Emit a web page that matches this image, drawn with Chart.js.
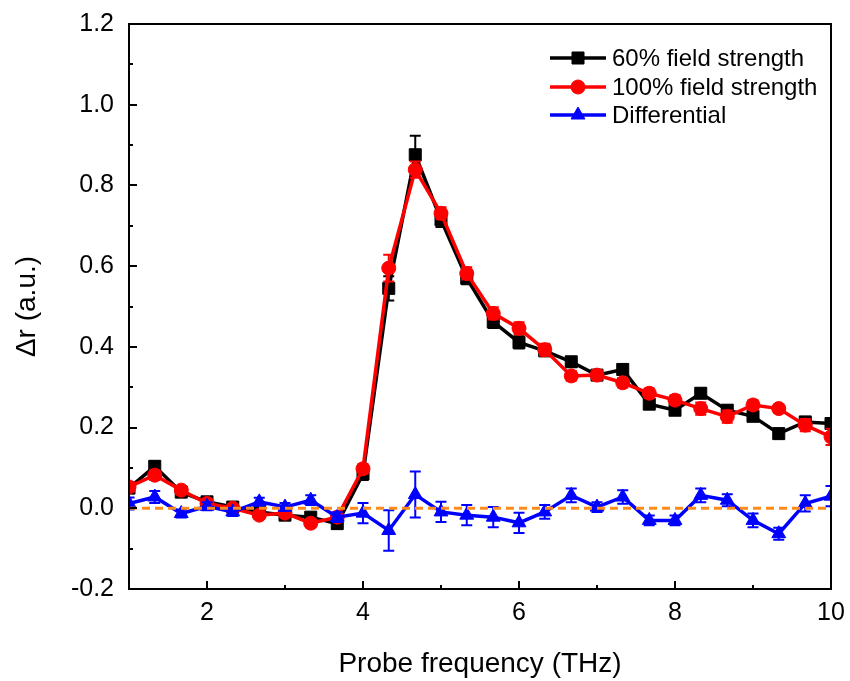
<!DOCTYPE html>
<html>
<head>
<meta charset="utf-8">
<script src="https://cdn.jsdelivr.net/npm/chart.js@4.4.0/dist/chart.umd.min.js"></script>
<style>
html, body { margin: 0; padding: 0; background: #fff; }
#wrap { width: 850px; height: 681px; position: relative; }
</style>
</head>
<body>
<div id="wrap"><canvas id="chart"></canvas></div>
<script>
var freq = [1.00, 1.33, 1.67, 2.00, 2.33, 2.67, 3.00, 3.33, 3.67, 4.00, 4.33, 4.67, 5.00, 5.33,
            5.67, 6.00, 6.33, 6.67, 7.00, 7.33, 7.67, 8.00, 8.33, 8.67, 9.00, 9.33, 9.67, 10.00];

var field60 = [0.050, 0.104, 0.040, 0.016, 0.003, -0.009, -0.017, -0.022, -0.038, 0.085, 0.545, 0.876, 0.715, 0.570,
               0.462, 0.411, 0.390, 0.363, 0.330, 0.344, 0.258, 0.243, 0.285, 0.243, 0.228, 0.185, 0.214, 0.210];
var field60Err = [0.010, 0.012, 0.012, 0.010, 0.010, 0.010, 0.010, 0.010, 0.012, 0.015, 0.030, 0.047, 0.018, 0.015,
                  0.015, 0.015, 0.012, 0.012, 0.012, 0.012, 0.012, 0.012, 0.012, 0.012, 0.012, 0.012, 0.012, 0.012];

var field100 = [0.053, 0.082, 0.045, 0.012, 0.000, -0.017, -0.012, -0.037, -0.022, 0.098, 0.595, 0.839, 0.731, 0.582,
                0.483, 0.446, 0.393, 0.328, 0.330, 0.311, 0.285, 0.268, 0.247, 0.227, 0.256, 0.247, 0.206, 0.177];
var field100Err = [0.012, 0.012, 0.010, 0.010, 0.008, 0.008, 0.008, 0.010, 0.010, 0.012, 0.033, 0.020, 0.015, 0.015,
                   0.015, 0.015, 0.015, 0.012, 0.012, 0.012, 0.012, 0.012, 0.015, 0.015, 0.012, 0.010, 0.015, 0.020];

var diff = [0.012, 0.028, -0.013, 0.005, -0.009, 0.016, 0.003, 0.020, -0.022, -0.012, -0.055, 0.034, -0.009, -0.017,
            -0.022, -0.036, -0.009, 0.032, 0.003, 0.028, -0.030, -0.030, 0.032, 0.020, -0.030, -0.063, 0.012, 0.030];
var diffErr = [0.015, 0.015, 0.010, 0.010, 0.010, 0.010, 0.010, 0.012, 0.012, 0.025, 0.050, 0.057, 0.025, 0.025,
               0.025, 0.025, 0.017, 0.017, 0.012, 0.017, 0.012, 0.012, 0.017, 0.015, 0.017, 0.015, 0.020, 0.025];

var zeroX = [1, 10];
var zeroY = [0, 0];

var xTicks = [2, 4, 6, 8, 10];
var xMinorTicks = [3, 5, 7, 9];
var yTicks = [-0.2, 0.0, 0.2, 0.4, 0.6, 0.8, 1.0, 1.2];
var yMinorTicks = [-0.1, 0.1, 0.3, 0.5, 0.7, 0.9, 1.1];

var seriesLabels = ["60% field strength", "100% field strength", "Differential"];

var FONT = "'Liberation Sans', Arial, sans-serif";

function points(xs, ys) {
    return xs.map(function (x, i) {
        return { x: x, y: ys[i] };
    });
}

function seriesDataset(label, values, errors, color, pointStyle, radius, order) {
    return {
        label: label,
        data: points(freq, values),
        errors: errors,
        borderColor: color,
        backgroundColor: color,
        borderWidth: 3.5,
        pointStyle: pointStyle,
        pointRadius: radius,
        pointBorderWidth: 1,
        pointBorderColor: color,
        pointBackgroundColor: color,
        tension: 0,
        clip: 0,
        order: order
    };
}

// error bars, drawn right after their own dataset
var errorBarPlugin = {
    id: "errorBars",
    afterDatasetDraw: function (chart, args) {
        var ds = chart.data.datasets[args.index];
        if (!ds.errors) {
            return;
        }
        var ctx = chart.ctx;
        var area = chart.chartArea;
        var xs = chart.scales.x;
        var ys = chart.scales.y;
        ctx.save();
        ctx.beginPath();
        ctx.rect(area.left, area.top, area.right - area.left, area.bottom - area.top);
        ctx.clip();
        ctx.strokeStyle = ds.borderColor;
        ctx.lineWidth = 2;
        ds.data.forEach(function (p, i) {
            var err = ds.errors[i];
            var px = xs.getPixelForValue(p.x);
            var top = ys.getPixelForValue(p.y + err);
            var bot = ys.getPixelForValue(p.y - err);
            ctx.beginPath();
            ctx.moveTo(px, top);
            ctx.lineTo(px, bot);
            ctx.moveTo(px - 5.5, top);
            ctx.lineTo(px + 5.5, top);
            ctx.moveTo(px - 5.5, bot);
            ctx.lineTo(px + 5.5, bot);
            ctx.stroke();
        });
        ctx.restore();
    }
};

// frame, inward ticks and legend
var framePlugin = {
    id: "frame",
    afterDraw: function (chart) {
        var ctx = chart.ctx;
        var area = chart.chartArea;
        var xs = chart.scales.x;
        var ys = chart.scales.y;

        ctx.save();
        ctx.strokeStyle = "#000";
        ctx.lineWidth = 2;
        ctx.strokeRect(area.left, area.top, area.right - area.left, area.bottom - area.top);

        ctx.beginPath();
        xTicks.forEach(function (v) {
            var px = Math.round(xs.getPixelForValue(v));
            ctx.moveTo(px, area.bottom);
            ctx.lineTo(px, area.bottom - 8);
        });
        xMinorTicks.forEach(function (v) {
            var px = Math.round(xs.getPixelForValue(v));
            ctx.moveTo(px, area.bottom);
            ctx.lineTo(px, area.bottom - 4);
        });
        yTicks.forEach(function (v) {
            var py = Math.round(ys.getPixelForValue(v));
            ctx.moveTo(area.left, py);
            ctx.lineTo(area.left + 8, py);
        });
        yMinorTicks.forEach(function (v) {
            var py = Math.round(ys.getPixelForValue(v));
            ctx.moveTo(area.left, py);
            ctx.lineTo(area.left + 4, py);
        });
        ctx.stroke();

        // legend
        var rowY = [58, 87, 115];
        var lineX0 = 550;
        var lineX1 = 606;
        ctx.font = "24px " + FONT;
        ctx.textBaseline = "middle";
        ctx.textAlign = "left";
        [0, 1, 2].forEach(function (i) {
            var ds = chart.data.datasets[i];
            var y = rowY[i];
            ctx.strokeStyle = ds.borderColor;
            ctx.lineWidth = 3.5;
            ctx.beginPath();
            ctx.moveTo(lineX0, y);
            ctx.lineTo(lineX1, y);
            ctx.stroke();
            ctx.fillStyle = ds.borderColor;
            ctx.lineWidth = 1;
            Chart.helpers.drawPoint(ctx, {
                pointStyle: ds.pointStyle,
                radius: ds.pointRadius,
                borderWidth: 1,
                rotation: 0
            }, (lineX0 + lineX1) / 2, y);
            ctx.fillStyle = "#000";
            ctx.fillText(ds.label, 612, y + 1);
        });
        ctx.restore();
    }
};

var datasets = [
    seriesDataset(seriesLabels[0], field60, field60Err, "#000000", "rect", 8.5, 4),
    seriesDataset(seriesLabels[1], field100, field100Err, "#ff0000", "circle", 7, 3),
    seriesDataset(seriesLabels[2], diff, diffErr, "#0000ff", "triangle", 8, 2),
    {
        label: "zero",
        data: points(zeroX, zeroY),
        borderColor: "#ff8c1a",
        borderWidth: 3,
        borderDash: [8, 5],
        pointRadius: 0,
        clip: 0,
        order: 1
    }
];

new Chart(document.getElementById("chart").getContext("2d"), {
    type: "line",
    data: { datasets: datasets },
    options: {
        responsive: true,
        maintainAspectRatio: false,
        animation: false,
        events: [],
        layout: {
            padding: { top: 24, right: 19, left: 0, bottom: 0 }
        },
        plugins: {
            legend: { display: false },
            tooltip: { enabled: false }
        },
        scales: {
            x: {
                type: "linear",
                min: 1,
                max: 10,
                afterBuildTicks: function (scale) {
                    scale.ticks = xTicks.map(function (v) { return { value: v }; });
                },
                afterFit: function (scale) {
                    scale.height = 92;
                    scale.paddingLeft = 0;
                    scale.paddingRight = 0;
                },
                grid: { display: false, drawTicks: false },
                border: { display: false },
                ticks: {
                    color: "#000",
                    padding: 9,
                    maxRotation: 0,
                    font: { family: FONT, size: 25 },
                    callback: function (v) { return String(v); }
                },
                title: {
                    display: true,
                    text: "Probe frequency (THz)",
                    color: "#000",
                    font: { family: FONT, size: 28 },
                    padding: { top: 0, bottom: 0 }
                }
            },
            y: {
                type: "linear",
                min: -0.2,
                max: 1.2,
                afterBuildTicks: function (scale) {
                    scale.ticks = yTicks.map(function (v) { return { value: v }; });
                },
                afterFit: function (scale) {
                    scale.width = 129;
                    scale.paddingTop = 0;
                    scale.paddingBottom = 0;
                },
                grid: { display: false, drawTicks: false },
                border: { display: false },
                ticks: {
                    color: "#000",
                    padding: 15,
                    font: { family: FONT, size: 25 },
                    callback: function (v) { return Number(v).toFixed(1); }
                },
                title: {
                    display: true,
                    text: "Δr (a.u.)",
                    color: "#000",
                    font: { family: FONT, size: 28 },
                    padding: { top: 10, bottom: 0 }
                }
            }
        }
    },
    plugins: [errorBarPlugin, framePlugin]
});
</script>
</body>
</html>
